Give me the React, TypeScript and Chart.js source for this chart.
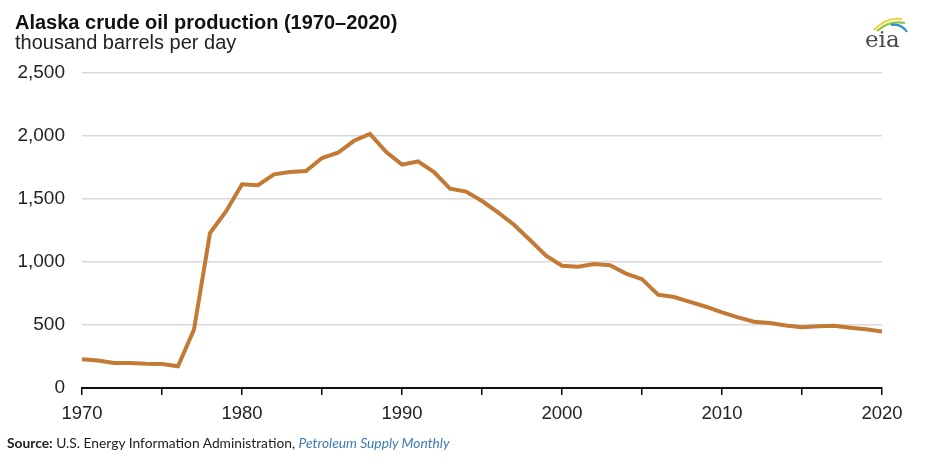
import React, { useEffect, useRef } from "react";
import { Chart, registerables } from "chart.js";

Chart.register(...registerables);

const years: number[] = [
  1970, 1971, 1972, 1973, 1974, 1975, 1976, 1977, 1978, 1979,
  1980, 1981, 1982, 1983, 1984, 1985, 1986, 1987, 1988, 1989,
  1990, 1991, 1992, 1993, 1994, 1995, 1996, 1997, 1998, 1999,
  2000, 2001, 2002, 2003, 2004, 2005, 2006, 2007, 2008, 2009,
  2010, 2011, 2012, 2013, 2014, 2015, 2016, 2017, 2018, 2019, 2020,
];

const production: number[] = [
  229, 218, 199, 198, 193, 191, 173, 464, 1229, 1401,
  1617, 1609, 1696, 1714, 1722, 1825, 1867, 1962, 2017, 1874,
  1773, 1798, 1714, 1582, 1559, 1484, 1393, 1296, 1175, 1050,
  970, 963, 984, 974, 908, 864, 741, 722, 683, 645,
  600, 561, 526, 515, 496, 483, 490, 494, 479, 466, 448,
];

const yTicks: number[] = [0, 500, 1000, 1500, 2000, 2500];
const xLabelYears: number[] = [1970, 1980, 1990, 2000, 2010, 2020];

const title = "Alaska crude oil production (1970–2020)";
const subtitle = "thousand barrels per day";

export default function App() {
  const ref = useRef<HTMLCanvasElement | null>(null);

  useEffect(() => {
    if (!ref.current) return;
    const chart = new Chart(ref.current, {
      type: "line",
      data: {
        datasets: [
          {
            data: years.map((y, i) => ({ x: y, y: production[i] })),
            borderColor: "#C27A35",
            borderWidth: 4,
            pointRadius: 0,
            tension: 0,
            fill: false,
          },
        ],
      },
      options: {
        animation: false,
        responsive: false,
        maintainAspectRatio: false,
        layout: { padding: { top: 73, right: 53, bottom: 0, left: 0 } },
        plugins: { legend: { display: false }, tooltip: { enabled: false } },
        scales: {
          x: {
            type: "linear",
            min: 1970,
            max: 2020,
            afterFit: (s: any) => {
              s.height = 84;
            },
            afterBuildTicks: (s: any) => {
              const t = [];
              for (let v = 1970; v <= 2020; v += 5) t.push({ value: v });
              s.ticks = t;
            },
            ticks: {
              autoSkip: false,
              maxRotation: 0,
              padding: 8,
              color: "#222",
              font: { family: "'Liberation Sans', Arial, sans-serif", size: 18.5 },
              callback: (v: any) => (xLabelYears.includes(Number(v)) ? String(v) : ""),
            },
            grid: {
              drawOnChartArea: false,
              drawTicks: true,
              tickLength: 7,
              color: "#111",
              lineWidth: 1.5,
            },
            border: { display: true, color: "#111", width: 2 },
          },
          y: {
            min: 0,
            max: 2500,
            afterFit: (s: any) => {
              s.width = 82;
            },
            afterBuildTicks: (s: any) => {
              s.ticks = yTicks.map((v) => ({ value: v }));
            },
            ticks: {
              padding: 17,
              color: "#222",
              font: { family: "'Liberation Sans', Arial, sans-serif", size: 19 },
              callback: (v: any) => Number(v).toLocaleString("en-US"),
            },
            grid: {
              drawTicks: false,
              color: (ctx: any) => (ctx.tick && ctx.tick.value === 0 ? "rgba(0,0,0,0)" : "#d9d9d9"),
              lineWidth: 1.5,
            },
            border: { display: false },
          },
        },
      },
    });
    return () => chart.destroy();
  }, []);

  return (
    <div
      style={{
        position: "fixed",
        left: 0,
        top: 0,
        width: 935,
        height: 472,
        background: "#fff",
        overflow: "hidden",
      }}
    >
      <canvas
        ref={ref}
        width={935}
        height={472}
        style={{ position: "absolute", left: 0, top: 0, width: 935, height: 472 }}
      />
      <div
        style={{
          position: "absolute",
          left: 15,
          top: 11,
          fontFamily: "'Liberation Sans', Arial, sans-serif",
          fontWeight: "bold",
          fontSize: 20,
          color: "#111",
          whiteSpace: "nowrap",
        }}
      >
        {title}
      </div>
      <div
        style={{
          position: "absolute",
          left: 15,
          top: 31,
          fontFamily: "'Liberation Sans', Arial, sans-serif",
          fontSize: 20,
          color: "#222",
          whiteSpace: "nowrap",
        }}
      >
        {subtitle}
      </div>
      <div
        style={{
          position: "absolute",
          left: 7,
          top: 434,
          fontFamily: "Lato, 'Open Sans', sans-serif",
          fontSize: 13.8,
          color: "#222",
          whiteSpace: "nowrap",
        }}
      >
        <b>Source:</b> U.S. Energy Information Administration,{" "}
        <i style={{ color: "#3d7bb0" }}>Petroleum Supply Monthly</i>
      </div>
      <svg
        width={50}
        height={42}
        viewBox="0 0 50 42"
        style={{ position: "absolute", left: 862, top: 10 }}
      >
        <path d="M12 20 Q24 7 40 9" stroke="#e8d83c" strokeWidth={2.2} fill="none" />
        <path d="M15 21 Q27 10 43 13" stroke="#8cc63f" strokeWidth={2.2} fill="none" />
        <path d="M29 15 Q39 13 45 22" stroke="#2b8fd0" strokeWidth={2.2} fill="none" />
        <text
          x={3}
          y={37}
          fontFamily="'DejaVu Serif', 'Liberation Serif', serif"
          fontSize={23}
          fill="#4a4a4a"
        >
          eia
        </text>
      </svg>
    </div>
  );
}
